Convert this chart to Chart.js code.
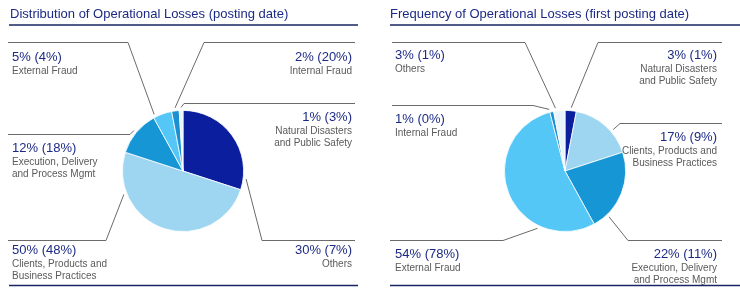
<!DOCTYPE html>
<html><head><meta charset="utf-8">
<script src="https://cdn.jsdelivr.net/npm/chart.js@4"></script>
<style>
html,body{margin:0;padding:0;background:#fff;}
#wrap{position:relative;width:740px;height:295px;}
canvas{position:absolute;top:0;}
</style></head>
<body><div id="wrap"><canvas id="c1" width="370" height="295" style="left:0"></canvas><canvas id="c2" width="370" height="295" style="left:370px"></canvas></div>
<script>
// ---- data ----
const leftTitle = 'Distribution of Operational Losses (posting date)';
const leftCategories = [['Others'], ['Clients, Products and', 'Business Practices'], ['Execution, Delivery', 'and Process Mgmt'], ['External Fraud'], ['Internal Fraud'], ['Natural Disasters', 'and Public Safety']];
const leftShare = [30, 50, 12, 5, 2, 1];
const leftPrev = [7, 48, 18, 4, 20, 3];

const rightTitle = 'Frequency of Operational Losses (first posting date)';
const rightCategories = [['Natural Disasters', 'and Public Safety'], ['Clients, Products and', 'Business Practices'], ['Execution, Delivery', 'and Process Mgmt'], ['External Fraud'], ['Internal Fraud'], ['Others']];
const rightShare = [3, 17, 22, 54, 1, 3];
const rightPrev = [1, 9, 11, 78, 0, 1];

// ---- styles / layout ----
const sliceColors = ['#0b1f9e', '#9ed6f2', '#1796d6', '#55c7f7', '#1a8fd2', '#e8f3fa'];
const NAVY = '#1c2a85', LINE = '#6a6a6a', GREY = '#5a5a5a';
const FONT = '"Liberation Sans", Arial, sans-serif';

// per label: align, text x, pct y, line y, line x1, line x2, elbow x, anchor fraction within slice (canvas coords)
const leftLayout = [
  {al:'right', x:352, y:250, ly:240, x1:262, x2:355, ex:262, f:0.9},
  {al:'left',  x:12,  y:250, ly:240, x1:8,   x2:106, ex:106, f:0.78},
  {al:'left',  x:12,  y:148, ly:134, x1:8,   x2:130, ex:130, f:0.5},
  {al:'left',  x:12,  y:57,  ly:42,  x1:8,   x2:128, ex:128, f:0.1},
  {al:'right', x:352, y:57,  ly:42,  x1:204, x2:355, ex:204, f:0.5},
  {al:'right', x:352, y:117, ly:103, x1:184, x2:355, ex:184, f:0.5}
];
const rightLayout = [
  {al:'right', x:347, y:55,  ly:42,  x1:228, x2:352, ex:228, f:0.52},
  {al:'right', x:347, y:137, ly:123, x1:250, x2:352, ex:250, f:0.63},
  {al:'right', x:347, y:254, ly:240, x1:258, x2:352, ex:258, f:0.81},
  {al:'left',  x:25,  y:254, ly:240, x1:20,  x2:133, ex:133, f:0.28},
  {al:'left',  x:25,  y:119, ly:105, x1:22,  x2:163, ex:163, f:0.0},
  {al:'left',  x:25,  y:55,  ly:42,  x1:22,  x2:155, ex:155, f:0.2}
];

function labelPlugin(title, titleX, ruleX1, ruleX2, cats, share, prev, layout){
  return {
    id:'labels',
    afterDraw(chart){
      const ctx = chart.ctx;
      ctx.save();
      // title
      ctx.fillStyle = NAVY;
      ctx.font = '13px ' + FONT;
      ctx.textAlign = 'left';
      ctx.textBaseline = 'middle';
      ctx.fillText(title, titleX, 14);
      ctx.strokeStyle = '#1a2463';
      ctx.lineWidth = 1.5;
      ctx.beginPath(); ctx.moveTo(ruleX1, 25); ctx.lineTo(ruleX2, 25); ctx.stroke();
      ctx.beginPath(); ctx.moveTo(ruleX1, 285.5); ctx.lineTo(ruleX2, 285.5); ctx.stroke();
      const meta = chart.getDatasetMeta(0);
      meta.data.forEach((arc, i) => {
        const L = layout[i];
        const p = arc.getProps(['x','y','startAngle','endAngle','outerRadius'], true);
        const a = p.startAngle + L.f * (p.endAngle - p.startAngle);
        const r = p.outerRadius + 3;
        const ax = p.x + Math.cos(a) * r, ay = p.y + Math.sin(a) * r;
        ctx.strokeStyle = LINE; ctx.lineWidth = 1;
        ctx.beginPath();
        if (L.ex === L.x1) { ctx.moveTo(L.x2, L.ly + 0.5); ctx.lineTo(L.x1, L.ly + 0.5); }
        else { ctx.moveTo(L.x1, L.ly + 0.5); ctx.lineTo(L.x2, L.ly + 0.5); }
        ctx.lineTo(ax, ay);
        ctx.stroke();
        ctx.textAlign = L.al;
        ctx.fillStyle = NAVY;
        ctx.font = '13px ' + FONT;
        ctx.fillText(share[i] + '% (' + prev[i] + '%)', L.x, L.y);
        ctx.fillStyle = GREY;
        ctx.font = '10px ' + FONT;
        cats[i].forEach((line, k) => ctx.fillText(line, L.x, L.y + 14 + k * 12.5));
      });
      ctx.restore();
    }
  };
}

function makePie(id, cats, share, prev, layout, pad, title, titleX, r1, r2){
  new Chart(document.getElementById(id), {
    type:'pie',
    data:{ labels: cats.map(c => c.join(' ')), datasets:[{ data: share, backgroundColor: sliceColors, borderColor:'#ffffff', borderWidth:0.8 }] },
    options:{
      responsive:false, devicePixelRatio:1, animation:false,
      layout:{ padding: pad },
      plugins:{ legend:{display:false}, tooltip:{enabled:false}, title:{display:false} }
    },
    plugins:[labelPlugin(title, titleX, r1, r2, cats, share, prev, layout)]
  });
}

makePie('c1', leftCategories, leftShare, leftPrev, leftLayout, {left:122, right:126, top:110, bottom:63}, leftTitle, 10, 9, 358);
makePie('c2', rightCategories, rightShare, rightPrev, rightLayout, {left:134, right:114, top:110, bottom:63}, rightTitle, 20, 20, 370);
</script></body></html>
